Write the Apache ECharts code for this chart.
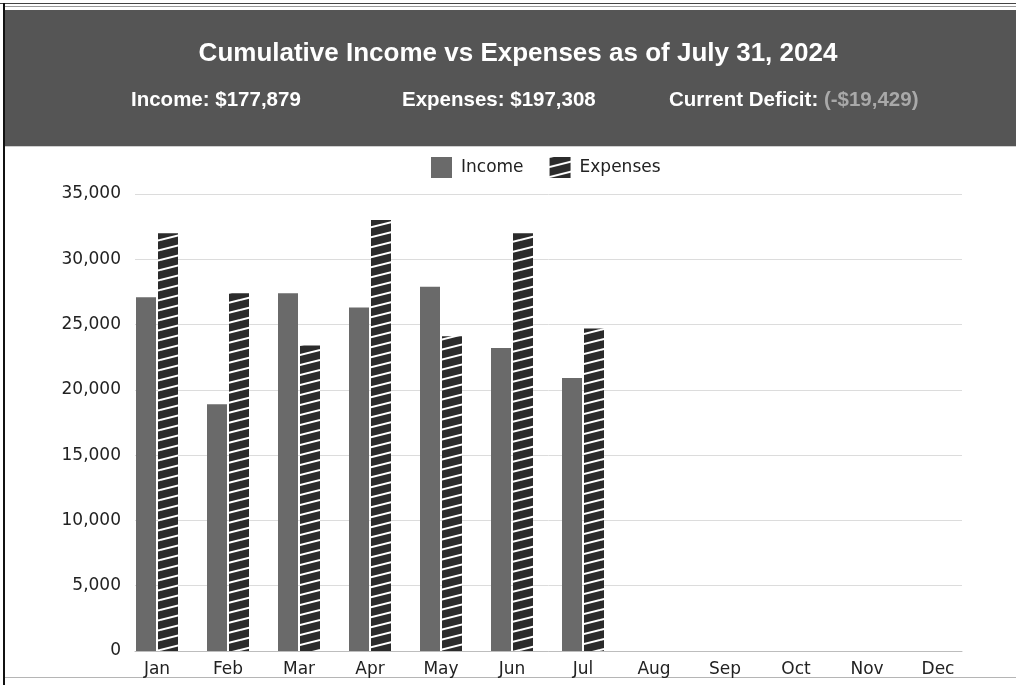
<!DOCTYPE html>
<html>
<head>
<meta charset="utf-8">
<script src="https://cdn.jsdelivr.net/npm/echarts@6/dist/echarts.min.js"></script>
<style>
html,body{margin:0;padding:0;background:#fff;}
#chart{width:1016px;height:685px;}
</style>
</head>
<body>
<div id="chart"></div>
<script>
const months = ['Jan','Feb','Mar','Apr','May','Jun','Jul','Aug','Sep','Oct','Nov','Dec'];
const income = [27100, 18900, 27400, 26300, 27900, 23200, 20900, null, null, null, null, null];
const expenses = [32000, 27400, 23400, 33000, 24100, 32000, 24700, null, null, null, null, null];
const yTicks = [0, 5000, 10000, 15000, 20000, 25000, 30000, 35000];
const titleText = 'Cumulative Income vs Expenses as of July 31, 2024';
const incomeTotal = 'Income: $177,879';
const expensesTotal = 'Expenses: $197,308';
const deficitLabel = 'Current Deficit: ';
const deficitValue = '(-$19,429)';

function hatch() {
  const w = 40, h = 10;
  const c = document.createElement('canvas');
  c.width = w; c.height = h;
  const g = c.getContext('2d');
  g.fillStyle = '#2b2b2b';
  g.fillRect(0, 0, w, h);
  g.strokeStyle = '#ffffff';
  g.lineWidth = 2;
  for (let k = -1; k <= 1; k++) {
    g.beginPath();
    g.moveTo(0, h + k * h);
    g.lineTo(w, 0 + k * h);
    g.stroke();
  }
  return c;
}

const chart = echarts.init(document.getElementById('chart'), null, {renderer: 'canvas'});
const axisFont = 'DejaVu Sans';
const headFont = '"Liberation Sans", Arial, sans-serif';
chart.setOption({
  animation: false,
  backgroundColor: '#ffffff',
  graphic: [
    {type: 'rect', shape: {x: 0, y: 3, width: 1016, height: 1}, style: {fill: '#444'}, silent: true},
    {type: 'rect', shape: {x: 5, y: 6, width: 1011, height: 1}, style: {fill: '#9a9a9a'}, silent: true},
    {type: 'rect', shape: {x: 5, y: 10, width: 1011, height: 136}, style: {fill: '#555555'}, silent: true},
    {type: 'rect', shape: {x: 5, y: 146, width: 1011, height: 1}, style: {fill: '#cfcfcf'}, silent: true},
    {type: 'rect', shape: {x: 3, y: 3, width: 2, height: 682}, style: {fill: '#111'}, silent: true},
    {type: 'rect', shape: {x: 5, y: 677, width: 1011, height: 1}, style: {fill: '#b5b5b5'}, silent: true},
    {type: 'text', x: 518, y: 54, style: {text: titleText, fill: '#ffffff', font: 'bold 26px ' + headFont, textAlign: 'center', textVerticalAlign: 'middle'}},
    {type: 'text', x: 131, y: 100, style: {text: incomeTotal, fill: '#ffffff', font: 'bold 20.5px ' + headFont, textVerticalAlign: 'middle'}},
    {type: 'text', x: 402, y: 100, style: {text: expensesTotal, fill: '#ffffff', font: 'bold 20.5px ' + headFont, textVerticalAlign: 'middle'}},
    {type: 'text', x: 669, y: 100, style: {
      text: '{a|' + deficitLabel + '}{b|' + deficitValue + '}',
      textVerticalAlign: 'middle',
      rich: {
        a: {fill: '#ffffff', font: 'bold 20.5px ' + headFont},
        b: {fill: '#a9a9a9', font: 'bold 20.5px ' + headFont}
      }
    }}
  ],
  legend: {
    left: 426, top: 152,
    itemWidth: 21, itemHeight: 21, itemGap: 26,
    icon: 'rect',
    textStyle: {fontFamily: axisFont, fontSize: 17, color: '#222', padding: [0, 0, 0, 4]},
    data: ['Income', 'Expenses']
  },
  grid: [
    {left: 121.5, right: 42.5, top: 194, bottom: 34, containLabel: false},
    {left: 135, right: 54, top: 194, bottom: 34, containLabel: false}
  ],
  xAxis: [
    {type: 'category', gridIndex: 0, data: months,
      axisLine: {show: false}, axisTick: {show: false},
      axisLabel: {fontFamily: axisFont, fontSize: 17, color: '#222', margin: 10, interval: 0}},
    {type: 'category', gridIndex: 1, data: months,
      axisLine: {show: true, lineStyle: {color: '#bdbdbd', width: 1}},
      axisTick: {show: false}, axisLabel: {show: false}, splitLine: {show: false}}
  ],
  yAxis: [
    {type: 'value', gridIndex: 0, min: 0, max: 35000, interval: 5000,
      axisLine: {show: false}, axisTick: {show: false}, axisLabel: {show: false}, splitLine: {show: false}},
    {type: 'value', gridIndex: 1, min: yTicks[0], max: yTicks[yTicks.length - 1], interval: yTicks[1] - yTicks[0],
      axisLine: {show: false}, axisTick: {show: false},
      axisLabel: {fontFamily: axisFont, fontSize: 17, color: '#222', margin: 14,
        formatter: v => v.toLocaleString('en-US')},
      splitLine: {lineStyle: {color: '#dcdcdc', width: 1}}}
  ],
  series: [
    {name: 'Income', type: 'bar', xAxisIndex: 0, yAxisIndex: 0, data: income,
      barWidth: 20, barGap: '10%', itemStyle: {color: '#6a6a6a'}},
    {name: 'Expenses', type: 'bar', xAxisIndex: 0, yAxisIndex: 0, data: expenses,
      barWidth: 20, barGap: '10%', itemStyle: {color: {image: hatch(), repeat: 'repeat'}}}
  ]
});
</script>
</body>
</html>
